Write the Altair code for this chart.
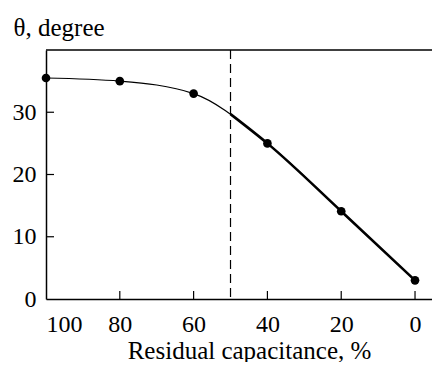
import altair as alt
import pandas as pd

# data
capacitance = [100, 80, 60, 40, 20, 0]
theta = [35.5, 35.0, 33.0, 25.0, 14.1, 3.0]
thick_capacitance = [50, 40, 20, 0]
thick_theta = [29.7, 25.0, 14.1, 3.0]
dashed_at = [50]
x_ticks = [100, 80, 60, 40, 20, 0]
y_ticks = [0, 10, 20, 30]

FONT = "Liberation Serif, DejaVu Serif, Times New Roman, serif"
W, H = 386, 249

pts = pd.DataFrame({"x": capacitance, "y": theta})
thick = pd.DataFrame({"x": thick_capacitance, "y": thick_theta})
dash = pd.DataFrame({"x": dashed_at})
xt = pd.DataFrame({"v": x_ticks[1:]})
yt = pd.DataFrame({"v": y_ticks[1:]})
frame = pd.DataFrame({"k": [0]})

xs = alt.Scale(domain=[100, -4.6], nice=False, zero=False)
ys = alt.Scale(domain=[0, 40], nice=False)

x_axis = alt.Axis(values=x_ticks, ticks=False, grid=False, domainColor="black",
                  domainWidth=1.5, labelFont=FONT, labelFontSize=24, labelFontWeight=400,
                  labelColor="black",
                  labelPadding=32, labelBaseline="alphabetic", labelOverlap=False,
                  title="Residual capacitance, %", titleFont=FONT, titleFontSize=25,
                  titleFontWeight=400, titleColor="black",
                  titleX=203, titleY=59, titleAlign="center", titleBaseline="alphabetic")
y_axis = alt.Axis(values=y_ticks, ticks=False, grid=False, domainColor="black",
                  domainWidth=1.5, labelFont=FONT, labelFontSize=24, labelFontWeight=400,
                  labelColor="black", labelPadding=10,
                  title="θ, degree", titleFont=FONT, titleFontSize=25,
                  titleFontWeight=400, titleColor="black", titleAngle=0,
                  titleX=-33, titleY=-15, titleAlign="left", titleBaseline="alphabetic")

thin_line = alt.Chart(pts).mark_line(color="black", strokeWidth=1.2, interpolate="monotone").encode(
    x=alt.X("x:Q", scale=xs, axis=x_axis),
    y=alt.Y("y:Q", scale=ys, axis=y_axis),
)
thick_line = alt.Chart(thick).mark_line(color="black", strokeWidth=2.6, interpolate="monotone").encode(
    x=alt.X("x:Q", scale=xs),
    y=alt.Y("y:Q", scale=ys),
)
points = alt.Chart(pts).mark_circle(color="black", size=75, opacity=1).encode(
    x=alt.X("x:Q", scale=xs),
    y=alt.Y("y:Q", scale=ys),
)
dashed = alt.Chart(dash).mark_rule(color="black", strokeWidth=1.2, strokeDash=[9, 5]).encode(
    x=alt.X("x:Q", scale=xs),
)
xticks = alt.Chart(xt).mark_rule(color="black", strokeWidth=1.2).encode(
    x=alt.X("v:Q", scale=xs),
    y=alt.value(H),
    y2=alt.value(H - 8),
)
yticks = alt.Chart(yt).mark_rule(color="black", strokeWidth=1.2).encode(
    y=alt.Y("v:Q", scale=ys),
    x=alt.value(0),
    x2=alt.value(8),
)
top_border = alt.Chart(frame).mark_rule(color="black", strokeWidth=1.5).encode(
    x=alt.value(0), x2=alt.value(W + 10), y=alt.value(0),
)

chart = alt.layer(thin_line, dashed, thick_line, points, xticks, yticks, top_border).properties(
    width=W, height=H,
    autosize=alt.AutoSizeParams(type="none"),
    padding={"left": 38, "top": 42, "right": 0, "bottom": 63},
).configure_view(stroke=None)

chart.save("out.html", embed_options={"renderer": "svg", "actions": False})
